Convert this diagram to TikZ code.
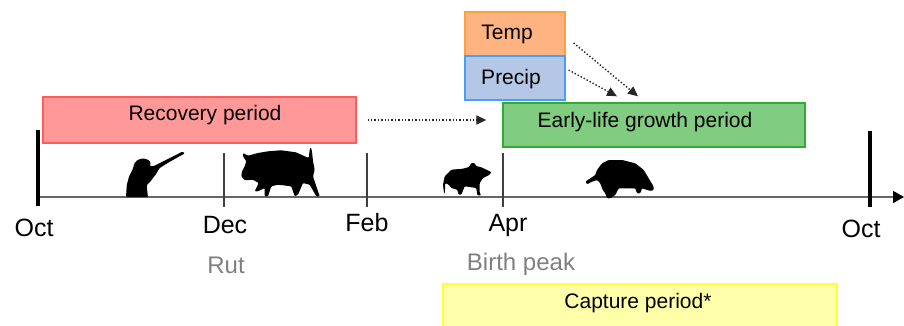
\documentclass[tikz,border=0pt]{standalone}
\usepackage{fontspec}
\setmainfont{Liberation Sans}
\usetikzlibrary{arrows.meta}

\definecolor{recfill}{HTML}{FF9999}
\definecolor{recline}{HTML}{FF5C5C}
\definecolor{growfill}{HTML}{80CC80}
\definecolor{growline}{HTML}{33AA33}
\definecolor{tempfill}{HTML}{FFB380}
\definecolor{templine}{HTML}{FF9F40}
\definecolor{precfill}{HTML}{B4C7E7}
\definecolor{precline}{HTML}{4AA0F0}
\definecolor{capfill}{HTML}{FFFFAA}
\definecolor{capline}{HTML}{FFFF33}

\tikzset{
    period/.style={draw, line width=1.3pt, inner sep=0, rectangle},
    boxtext/.style={anchor=base, inner sep=0, font=\fontsize{21}{25}\selectfont},
    month/.style={anchor=base, inner sep=0, font=\fontsize{25}{30}\selectfont},
    note/.style={anchor=base, inner sep=0, text=black!50, font=\fontsize{24}{28}\selectfont},
    flow/.style={dotted, line width=1.4pt, black!85, -{Triangle[length=10pt,width=9pt]}},
    silhouette/.style={fill=black, rounded corners=1pt},
}

\begin{document}
\begin{tikzpicture}[x=1pt,y=-1pt]
    \pgfmathsetmacro{\axisy}{197}
    \pgfmathsetmacro{\ticktop}{153}
    \pgfmathsetmacro{\tickbot}{207}
    \useasboundingbox (0,0) rectangle (904,326);

    % period boxes
    \node[period, fill=recfill, draw=recline, minimum width=313pt, minimum height=46pt] (rec) at (199.5,120) {};
    \node[period, fill=growfill, draw=growline, minimum width=302pt, minimum height=44pt] (grow) at (654,125) {};
    \node[period, fill=tempfill, draw=templine, minimum width=100pt, minimum height=44pt] (temp) at (515,34) {};
    \node[period, fill=precfill, draw=precline, minimum width=100pt, minimum height=44pt] (prec) at (515,78) {};
    \node[period, fill=capfill, draw=capline, minimum width=394pt, minimum height=56pt] (cap) at (640,312) {};
    \node[boxtext] (reclbl) at (205,121) {Recovery period};
    \node[boxtext] (growlbl) at (645,128) {Early-life growth period};
    \node[boxtext] (templbl) at (507,40) {Temp};
    \node[boxtext] (preclbl) at (511,85) {Precip};
    \node[boxtext] (caplbl) at (638,308) {Capture period*};

    % dotted links
    \draw[flow] ([xshift=11pt]rec.east) -- ([xshift=-16pt]rec.east -| grow.west);
    \draw[flow] ([shift={(8,9)}]temp.east) -- ([shift={(-16,-6)}]grow.north);
    \draw[flow] ([shift={(3,-8)}]prec.east) -- ([shift={(-37,-6)}]grow.north);

    % time axis
    \coordinate (oct1) at (38,\axisy);
    \coordinate (dec) at (224,\axisy);
    \coordinate (feb) at (367,\axisy);
    \coordinate (apr) at (503,\axisy);
    \coordinate (oct2) at (870,\axisy);
    \draw[line width=1.5pt, black!60, -{Triangle[length=11pt,width=12pt,black]}] (oct1) -- (904,\axisy);
    \draw[line width=4pt] (38,130) -- (38,206);
    \draw[line width=4pt] (870,131) -- (870,207);
    \foreach \m in {dec,feb,apr}
        \draw[line width=1.4pt, black!75] (\m |- 0,\ticktop) -- (\m |- 0,\tickbot);

    \node[month] (octl) at (34,236) {Oct};
    \node[month] (decl) at (225,233) {Dec};
    \node[month] (febl) at (367,231) {Feb};
    \node[month] (aprl) at (508,231) {Apr};
    \node[month] (octr) at (861,237) {Oct};
    \node[note] (rut) at (226,273) {Rut};
    \node[note] (birth) at (521,270) {Birth peak};

    % hunter
    \fill[silhouette] (126,197) -- (126.8,185) -- (129,176.7) -- (132.8,169) -- (134.4,163.3)
        -- (137.4,160) -- (143.1,158.3) -- (148.8,160) -- (151,163.3) -- (149.5,165.7)
        -- (153.4,166.3) -- (182.3,151.7) -- (185,153.3) -- (168.8,162.3) -- (159.3,168.3)
        -- (156.6,173.3) -- (152.8,178.3) -- (149.8,182.3) -- (146.7,185) -- (147.9,197) -- cycle;
    % adult boar
    \fill[silhouette] (243,153) -- (248,155.7) -- (258,153) -- (268,151.3) -- (281,150.3)
        -- (296,152.3) -- (304.7,156.3) -- (308.7,158) -- (309.7,149.7) -- (310.7,147)
        -- (312,151.3) -- (313,161.3) -- (314.7,169.7) -- (313,176.3) -- (316.3,186.3)
        -- (319.7,196.3) -- (316.3,196.3) -- (309.7,184.7) -- (303,183) -- (298,194.7)
        -- (294.7,196.3) -- (291.3,186.3) -- (278,184.7) -- (271.3,186.3) -- (268,196.3)
        -- (264.7,196.3) -- (264.7,188) -- (258,191.3) -- (254.7,191.3) -- (258.7,183)
        -- (253,179.7) -- (244.7,180.3) -- (241.3,176.3) -- (242,171.3) -- (244.7,166.3)
        -- (246.3,161.3) -- (243,156.3) -- cycle;
    % piglet
    \fill[silhouette] (444,193) -- (443,184.7) -- (444.7,176.3) -- (451.3,169.7) -- (463,168.7)
        -- (469,167) -- (471.3,163) -- (474.7,163) -- (476,166) -- (481.3,167.3)
        -- (491.3,172) -- (489.7,174.7) -- (483,178) -- (479.7,183) -- (479.7,193)
        -- (481.3,195.3) -- (477.3,195.3) -- (476.3,188) -- (464.7,186.3) -- (461.3,194.7)
        -- (458.7,194.7) -- (457.3,189.7) -- (451.3,188) -- (448.7,184.7) -- (445.3,183)
        -- (444.8,193) -- cycle;
    % young boar
    \fill[silhouette] (585.3,181.7) -- (590.3,178.3) -- (595.3,175) -- (597,170) -- (602,163.3)
        -- (608.7,160) -- (622,160) -- (635.3,163.3) -- (643.7,170) -- (648.7,178.3)
        -- (653.7,186.7) -- (653.7,190) -- (650.3,191) -- (642,188.3) -- (640.3,193.3)
        -- (637,193.3) -- (635.3,188.3) -- (618.7,188.3) -- (615.3,195) -- (610.3,198.3)
        -- (607,198.3) -- (605.3,193.3) -- (602.7,190) -- (600.3,183.3) -- (597,180)
        -- (592,181.7) -- (587,184.3) -- cycle;
\end{tikzpicture}
\end{document}
